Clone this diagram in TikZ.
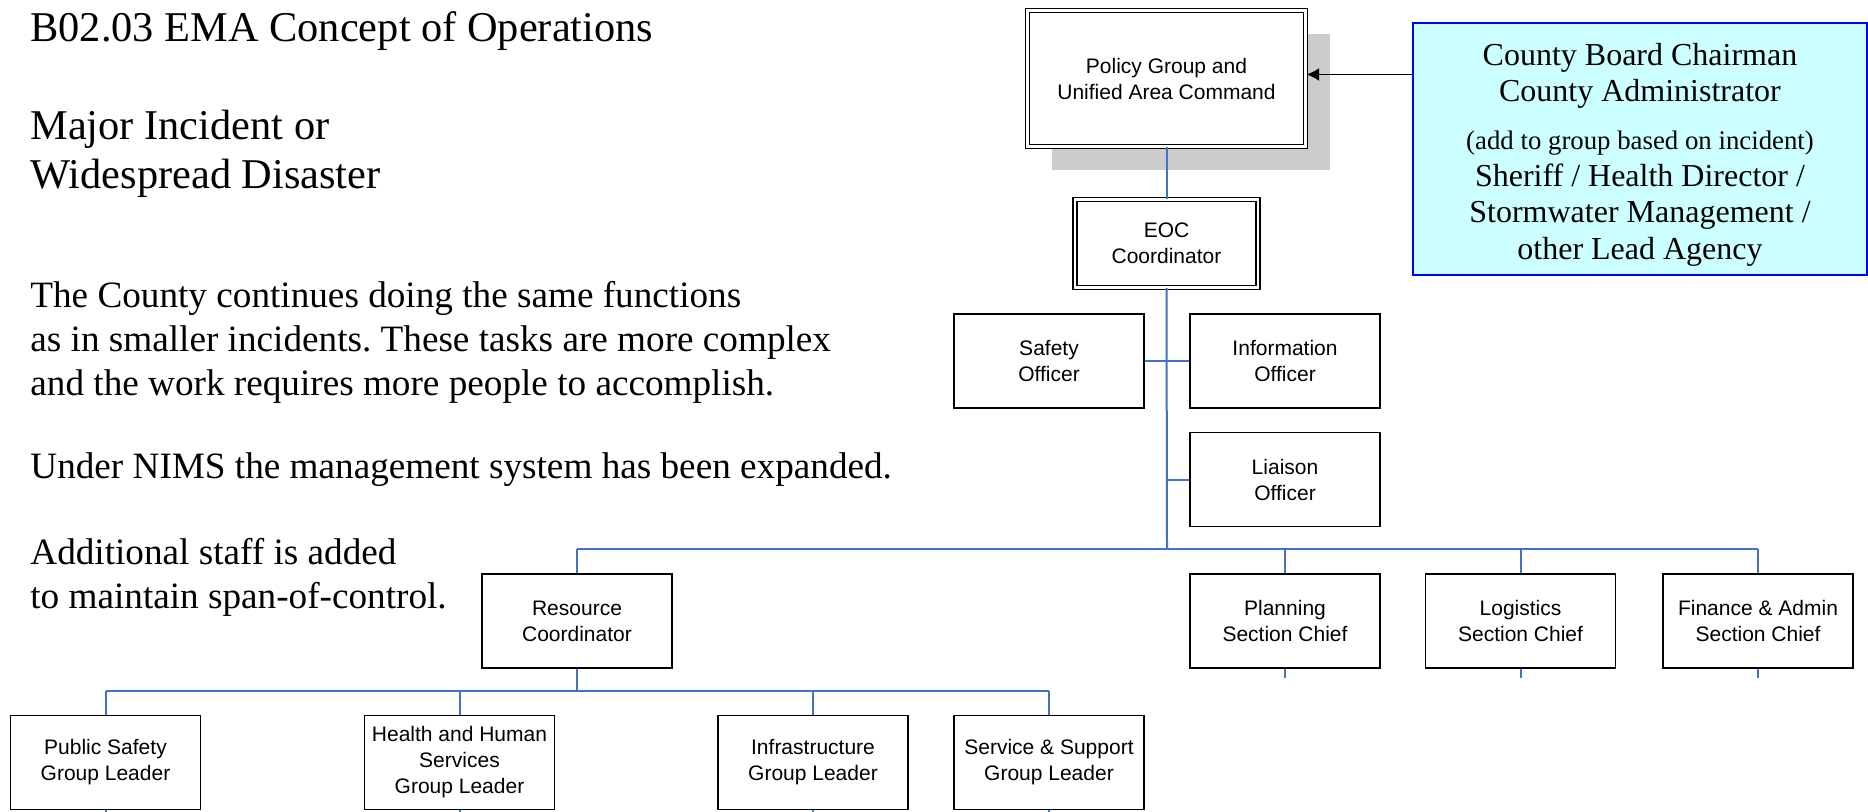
\documentclass[tikz,border=0pt]{standalone}
\usepackage{fontspec}
\setmainfont{Liberation Serif}
\setsansfont{Liberation Sans}
\usetikzlibrary{arrows.meta, positioning, shadows}

\definecolor{linkblue}{RGB}{68,114,196}
\definecolor{palecyan}{RGB}{204,255,255}
\definecolor{shadowgray}{RGB}{204,204,204}

\begin{document}
\frenchspacing
\begin{tikzpicture}[x=0.5pt, y=-0.5pt, >=Latex]
				\tikzstyle{post} = [draw=black, fill=white, line width=0.9pt, minimum width=95pt, minimum height=47pt, inner sep=1pt, align=center, font=\sffamily\fontsize{10.5}{13}\selectfont]
				\tikzstyle{lead} = [post, double, line width=0.7pt, double distance=1.4pt]
				\tikzstyle{link} = [draw=linkblue, line width=1pt]
				\tikzstyle{prose} = [inner sep=0pt, align=left, anchor=base west]
				\tikzstyle{big} = [prose, font=\fontsize{21.2}{24.5}\selectfont]
				\tikzstyle{body} = [prose, font=\fontsize{18.6}{22}\selectfont]
				
				\useasboundingbox (0,0) rectangle (1868,812);
				
				% left text (base = last line)
				\node[big] 	at (30, 42) 	(title) 	{B02.03 EMA Concept of Operations};
				\node[big] 	at (30, 189) 	(scope) 	{Major Incident or\\Widespread Disaster};
				\node[body] 	at (30, 396) 	(same) 	{The County continues doing the same functions\\as in smaller incidents. These tasks are more complex\\and the work requires more people to accomplish.};
				\node[body] 	at (30, 479) 	(nims) 	{Under NIMS the management system has been expanded.};
				\node[body] 	at (30, 608) 	(span) 	{Additional staff is added\\to maintain span-of-control.};
				
				% command
				\node[lead, minimum width=139pt, minimum height=68pt, drop shadow={shadow xshift=12pt, shadow yshift=-12pt, fill=shadowgray, opacity=1}]
						at (1166.5, 78.5) 	(policy) 	{Policy Group and\\Unified Area Command};
				\node[draw=blue, fill=palecyan, line width=0.9pt, minimum width=227pt, minimum height=126pt, inner sep=0pt, align=center, font=\fontsize{16}{18.2}\selectfont]
						at (1640, 149) 	(chair) 	{\rule{0pt}{16.5pt}County Board Chairman\\County Administrator\\[6pt]{\fontsize{13.4}{15}\selectfont (add to group based on incident)}\\Sheriff / Health Director /\\Stormwater Management /\\other Lead Agency};
				\node[lead, minimum width=91.5pt, minimum height=44pt] 	at (1166.5, 243.5) 	(eoc) 	{EOC\\Coordinator};
				
				% staff
				\node[post] 	at (1049, 361) 		(safety) 	{Safety\\Officer};
				\node[post] 	at (1285, 361) 		(info) 	{Information\\Officer};
				\node[post] 	at (1285, 479.5) 	(liaison) 	{Liaison\\Officer};
				
				% sections
				\node[post] 	at (577, 621) 		(resource) 	{Resource\\Coordinator};
				\node[post] 	at (1285, 621) 		(planning) 	{Planning\\Section Chief};
				\node[post] 	at (1520.5, 621) 	(logistics) 	{Logistics\\Section Chief};
				\node[post] 	at (1758, 621) 		(finance) 	{Finance \& Admin\\Section Chief};
				
				% groups
				\node[post] 	at (105.5, 762.5) 	(pubsafe) 	{Public Safety\\Group Leader};
				\node[post] 	at (459.5, 762.5) 	(health) 	{Health and Human\\Services\\Group Leader};
				\node[post] 	at (813, 762.5) 	(infra) 	{Infrastructure\\Group Leader};
				\node[post] 	at (1049, 762.5) 	(service) 	{Service \& Support\\Group Leader};
				
				\coordinate (hub) at (1167, 549);
				\coordinate (rhub) at (577, 691);
				\coordinate (feed) at ([yshift=2pt]policy.east);
				
				\draw[-{Latex[length=6.5pt, width=6.5pt]}, line width=0.9pt] (chair.west |- feed) -- (feed);
				
				\path[link]
				(policy)	edge	(eoc)
				(eoc.south)	edge	(hub)
				(safety.east)	edge	(info.west)
				(hub |- liaison.west)	edge	(liaison.west)
				(resource.north |- hub)	edge	(finance.north |- hub)
				(resource.north |- hub)	edge	(resource.north)
				(planning.north |- hub)	edge	(planning.north)
				(logistics.north |- hub)	edge	(logistics.north)
				(finance.north |- hub)	edge	(finance.north)
				(planning.south)	edge	++(0, 9)
				(logistics.south)	edge	++(0, 9)
				(finance.south)	edge	++(0, 9)
				(resource.south)	edge	(rhub)
				(pubsafe.north |- rhub)	edge	(service.north |- rhub)
				(pubsafe.north |- rhub)	edge	(pubsafe.north)
				(health.north |- rhub)	edge	(health.north)
				(infra.north |- rhub)	edge	(infra.north)
				(service.north |- rhub)	edge	(service.north)
				(pubsafe.south)	edge	++(0, 4)
				(health.south)	edge	++(0, 4)
				(infra.south)	edge	++(0, 4)
				(service.south)	edge	++(0, 4);
\end{tikzpicture}
\end{document}
